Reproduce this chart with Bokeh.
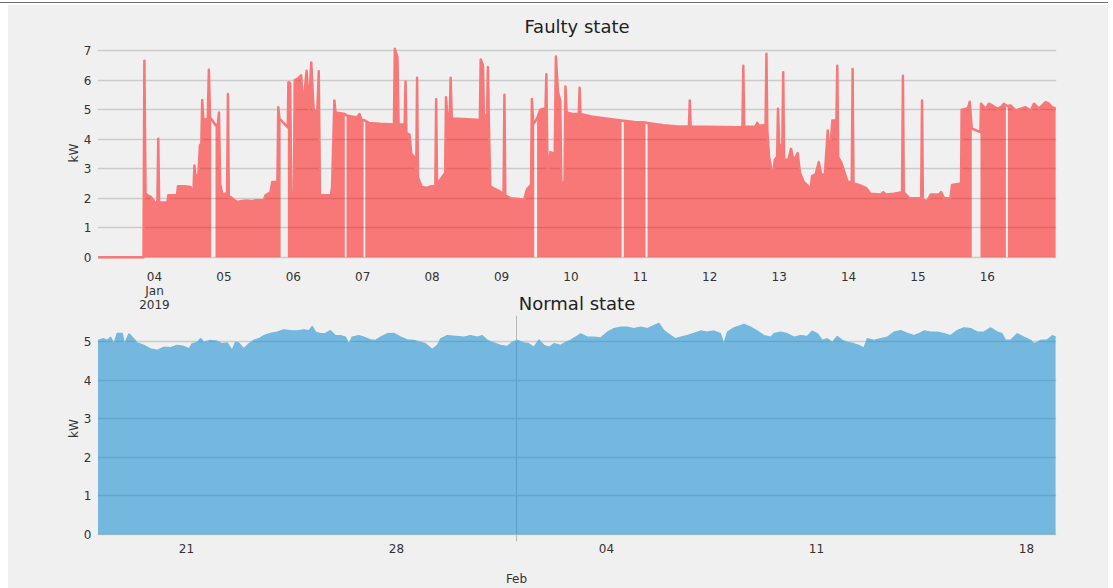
import pandas as pd
from bokeh.plotting import figure
from bokeh.models import FixedTicker, Range1d, DatetimeAxis, Div
from bokeh.layouts import column
from bokeh.embed import file_html
from bokeh.resources import INLINE

# ---------------- data ----------------
fault_start = "2019-01-03 00:00"          # hours below are counted from here
fault_hours = [
    4.5, 20.2, 20.5, 20.9, 21.5, 22.6, 23.5, 24.1, 25.0, 25.3,
    25.6, 28.4, 28.8, 31.8, 32.1, 34.5, 36.5, 36.9, 37.5, 37.8,
    38.2, 39.2, 39.7, 40.2, 40.5, 40.9, 42.4, 42.8, 43.2, 43.6,
    45.1, 45.9, 46.3, 46.7, 47.4, 49.1, 49.4, 49.7, 50.3, 51.5,
    52.6, 54.3, 56.0, 57.5, 59.0, 61.8, 62.4, 64.1, 64.7, 66.5,
    66.8, 67.2, 67.6, 70.1, 70.3, 70.9, 71.3, 72.2, 72.5, 73.6,
    74.7, 75.4, 76.6, 77.4, 78.2, 79.0, 80.3, 80.8, 81.2, 85.0,
    85.4, 86.2, 86.6, 89.8, 90.4, 93.0, 94.2, 94.9, 95.6, 96.3,
    96.9, 98.1, 102.0, 106.8, 107.1, 108.0, 108.4, 110.5, 110.8, 111.1,
    112.2, 112.8, 113.8, 114.5, 114.8, 115.1, 116.4, 118.0, 119.5, 121.1,
    121.4, 121.7, 123.0, 124.5, 124.8, 125.2, 126.1, 126.4, 126.8, 131.0,
    136.5, 136.8, 137.6, 137.9, 139.0, 139.3, 139.7, 140.1, 141.5, 143.0,
    144.7, 145.0, 145.3, 147.0, 150.0, 151.8, 152.8, 154.2, 154.5, 154.9,
    155.3, 156.3, 157.4, 159.2, 159.5, 159.9, 160.9, 162.4, 162.8, 163.5,
    164.3, 164.7, 165.8, 166.1, 166.5, 168.5, 170.7, 171.0, 171.3, 175.0,
    180.0, 185.5, 186.3, 190.0, 193.8, 194.5, 200.0, 205.0, 208.8, 209.1,
    209.4, 215.0, 220.0, 225.0, 227.3, 227.6, 227.9, 231.8, 232.4, 233.0,
    235.3, 235.6, 235.9, 236.5, 237.8, 238.5, 239.3, 239.6, 240.0, 241.1,
    241.4, 241.7, 243.2, 244.1, 245.0, 246.4, 247.2, 248.5, 249.6, 250.8,
    251.4, 252.6, 253.7, 254.5, 255.8, 256.8, 257.5, 258.4, 259.8, 260.1,
    260.4, 261.5, 262.5, 263.7, 265.1, 265.4, 265.7, 267.6, 270.0, 271.6,
    275.0, 276.0, 277.0, 279.6, 282.5, 282.8, 283.1, 285.0, 289.1, 289.4,
    289.7, 291.2, 292.4, 295.2, 296.0, 297.0, 299.2, 299.8, 302.9, 303.1,
    305.3, 305.9, 306.6, 309.6, 309.8, 311.4, 312.5, 313.7, 315.4, 316.6,
    317.7, 318.4, 319.1, 320.0, 321.8, 323.5, 325.2, 327.0, 328.1, 329.8,
    332.1, 333.3, 334.4, 335.6,
]
fault_kw = [
    0.00, 0.00, 6.66, 2.17, 2.10, 2.05, 1.95, 1.84, 1.85, 4.01,
    1.85, 1.85, 2.10, 2.10, 2.40, 2.40, 2.38, 2.21, 2.30, 3.11,
    2.72, 2.80, 3.79, 3.85, 5.33, 4.69, 4.65, 6.35, 4.72, 4.69,
    4.47, 4.50, 4.90, 2.49, 2.15, 2.15, 5.53, 2.04, 2.04, 1.95,
    1.87, 1.90, 1.92, 1.90, 1.93, 1.93, 2.10, 2.20, 2.55, 2.55,
    5.08, 4.69, 4.65, 4.40, 5.93, 5.90, 2.21, 2.21, 6.00, 6.05,
    6.16, 5.08, 6.32, 5.03, 6.60, 5.00, 4.97, 6.30, 2.10, 2.10,
    2.38, 5.31, 4.90, 4.85, 4.80, 4.75, 4.75, 4.85, 4.65, 4.65,
    4.62, 4.55, 4.52, 4.50, 7.06, 6.78, 4.50, 4.50, 5.95, 4.20,
    4.15, 3.50, 3.40, 2.70, 6.08, 2.70, 2.38, 2.35, 2.40, 2.40,
    5.35, 2.45, 2.65, 2.85, 5.42, 4.85, 4.85, 6.08, 4.70, 4.68,
    4.65, 6.70, 6.50, 4.80, 4.80, 6.44, 4.20, 2.40, 2.32, 2.25,
    2.15, 5.50, 2.10, 2.00, 1.97, 1.95, 2.30, 2.45, 5.36, 4.60,
    4.55, 4.70, 5.00, 5.05, 6.20, 2.85, 3.56, 3.50, 6.80, 5.60,
    5.30, 2.35, 2.60, 5.78, 4.90, 4.85, 4.85, 5.74, 4.85, 4.77,
    4.70, 4.63, 4.62, 4.58, 4.56, 4.55, 4.47, 4.43, 4.43, 5.31,
    4.43, 4.42, 4.41, 4.40, 4.40, 6.49, 4.42, 4.42, 4.55, 4.45,
    4.48, 6.89, 4.30, 3.40, 2.72, 3.30, 3.40, 5.03, 3.80, 3.80,
    6.27, 3.30, 3.30, 3.67, 3.25, 3.53, 2.85, 2.55, 2.45, 2.30,
    2.75, 2.80, 3.22, 2.80, 2.80, 4.29, 3.40, 4.63, 4.63, 6.49,
    3.40, 3.20, 2.90, 2.55, 2.55, 6.38, 2.50, 2.45, 2.35, 2.15,
    2.12, 2.20, 2.12, 2.15, 2.20, 6.15, 2.20, 2.00, 2.00, 5.31,
    1.95, 1.90, 2.12, 2.12, 2.20, 2.00, 2.00, 2.45, 2.50, 5.00,
    5.05, 5.27, 4.36, 4.24, 5.20, 5.03, 5.20, 5.14, 5.03, 5.08,
    5.20, 5.15, 5.12, 5.14, 4.97, 5.03, 5.08, 4.97, 5.20, 5.03,
    5.25, 5.20, 5.08, 5.03,
]
# hours at which a missing stretch (no fill) starts; it lasts until the next reading
fault_gap_starts = [43.6, 67.6, 89.8, 96.3, 155.3, 185.5, 193.8, 306.6, 318.4]

normal_start = "2019-01-18 00:00"         # days below are counted from here
normal_days = [
    0.05, 0.24, 0.36, 0.47, 0.58, 0.69, 0.86, 0.93, 1.08, 1.24,
    1.36, 1.58, 1.80, 2.02, 2.24, 2.47, 2.69, 2.91, 3.08, 3.19,
    3.36, 3.47, 3.58, 3.80, 4.02, 4.19, 4.36, 4.52, 4.63, 4.74,
    4.91, 5.08, 5.24, 5.41, 5.58, 5.80, 6.02, 6.24, 6.47, 6.69,
    6.91, 7.08, 7.19, 7.30, 7.47, 7.63, 7.80, 7.97, 8.13, 8.30,
    8.41, 8.52, 8.74, 8.91, 9.13, 9.30, 9.47, 9.69, 9.91, 10.14,
    10.36, 10.58, 10.80, 10.97, 11.19, 11.36, 11.47, 11.69, 11.97, 12.25,
    12.47, 12.69, 12.86, 13.03, 13.25, 13.47, 13.69, 13.86, 14.03, 14.25,
    14.41, 14.58, 14.75, 14.91, 15.08, 15.25, 15.47, 15.64, 15.80, 15.97,
    16.14, 16.36, 16.58, 16.80, 17.03, 17.25, 17.47, 17.69, 17.91, 18.14,
    18.36, 18.58, 18.75, 18.91, 19.14, 19.30, 19.47, 19.69, 19.91, 20.14,
    20.36, 20.58, 20.80, 20.91, 21.03, 21.25, 21.47, 21.58, 21.80, 22.03,
    22.25, 22.47, 22.58, 22.80, 23.03, 23.25, 23.47, 23.69, 23.86, 24.03,
    24.19, 24.36, 24.53, 24.69, 24.86, 25.03, 25.25, 25.41, 25.58, 25.69,
    25.91, 26.14, 26.36, 26.58, 26.80, 27.03, 27.25, 27.41, 27.58, 27.80,
    28.03, 28.25, 28.47, 28.69, 28.91, 29.14, 29.36, 29.58, 29.80, 30.03,
    30.19, 30.30, 30.47, 30.69, 30.91, 31.14, 31.25, 31.47, 31.69, 31.86,
    31.97,
]
normal_kw = [
    5.03, 5.07, 5.03, 5.11, 4.94, 5.21, 5.21, 4.94, 5.20, 5.07,
    4.96, 4.90, 4.81, 4.77, 4.85, 4.84, 4.90, 4.87, 4.81, 4.94,
    4.98, 5.08, 4.98, 5.03, 5.01, 4.94, 4.96, 4.77, 4.98, 4.96,
    4.81, 4.94, 5.03, 5.07, 5.15, 5.21, 5.24, 5.30, 5.28, 5.27,
    5.30, 5.28, 5.39, 5.24, 5.20, 5.21, 5.28, 5.15, 5.15, 5.11,
    4.94, 5.11, 5.15, 5.11, 5.04, 5.03, 5.11, 5.20, 5.21, 5.11,
    5.04, 5.03, 4.98, 4.94, 4.79, 4.90, 5.07, 5.15, 5.13, 5.11,
    5.15, 5.11, 5.15, 5.03, 4.96, 4.90, 4.87, 4.98, 5.03, 4.96,
    4.94, 4.85, 5.04, 4.90, 4.85, 4.94, 4.90, 4.98, 5.03, 5.11,
    5.20, 5.11, 5.11, 5.09, 5.24, 5.33, 5.37, 5.37, 5.33, 5.37,
    5.33, 5.41, 5.47, 5.28, 5.15, 5.07, 5.11, 5.15, 5.21, 5.27,
    5.24, 5.27, 5.20, 4.94, 5.24, 5.35, 5.41, 5.44, 5.37, 5.27,
    5.15, 5.11, 5.20, 5.24, 5.20, 5.11, 5.15, 5.13, 5.27, 5.20,
    5.03, 5.07, 4.98, 5.13, 5.03, 4.98, 4.94, 4.90, 4.83, 5.07,
    5.03, 5.07, 5.11, 5.24, 5.28, 5.21, 5.15, 5.20, 5.27, 5.24,
    5.24, 5.20, 5.15, 5.28, 5.35, 5.33, 5.24, 5.24, 5.35, 5.24,
    5.20, 5.03, 5.03, 5.20, 5.11, 5.03, 4.94, 5.03, 5.04, 5.15,
    5.11,
]

fault_ticks = ["2019-01-04", "2019-01-05", "2019-01-06", "2019-01-07", "2019-01-08",
               "2019-01-09", "2019-01-10", "2019-01-11", "2019-01-12", "2019-01-13",
               "2019-01-14", "2019-01-15", "2019-01-16"]
fault_tick_labels = ["04\nJan\n2019", "05", "06", "07", "08", "09", "10", "11",
                     "12", "13", "14", "15", "16"]
normal_ticks = ["2019-01-21", "2019-01-28", "2019-02-04", "2019-02-11", "2019-02-18"]
normal_tick_labels = ["21", "28", "04", "11", "18"]
month_tick = "2019-02-01"
month_label = "Feb"
fault_y_ticks = [0, 1, 2, 3, 4, 5, 6, 7]
normal_y_ticks = [0, 1, 2, 3, 4, 5]

assert len(fault_hours) == len(fault_kw)
assert len(normal_days) == len(normal_kw)

# ---------------- helpers ----------------
HOUR = 3600_000
DAY = 24 * HOUR


def ms(s):
    return int(pd.Timestamp(s).value // 10**6)


BG = "#f0f0f0"
FONT = "DejaVu Sans"


def style(p, yticks):
    p.background_fill_color = BG
    p.border_fill_color = BG
    p.outline_line_color = None
    p.yaxis.ticker = FixedTicker(ticks=yticks)
    for ax in list(p.xaxis) + list(p.yaxis):
        ax.axis_line_color = None
        ax.major_tick_line_color = None
        ax.minor_tick_line_color = None
        ax.major_tick_out = 0
        ax.major_tick_in = 0
        ax.minor_tick_out = 0
        ax.minor_tick_in = 0
        ax.major_label_text_font = FONT
        ax.major_label_text_font_size = "12px"
        ax.major_label_text_color = "#333333"
        ax.major_label_text_line_height = 1.0
    p.xaxis.major_label_standoff = 2
    p.yaxis.major_label_standoff = 6
    p.yaxis.axis_label = "kW"
    p.yaxis.axis_label_text_font = FONT
    p.yaxis.axis_label_text_font_size = "12px"
    p.yaxis.axis_label_text_font_style = "normal"
    p.yaxis.axis_label_text_color = "#333333"
    p.yaxis.axis_label_standoff = 0
    p.ygrid.grid_line_color = "#cbcbcb"
    p.ygrid.grid_line_width = 1.5
    p.title.align = "center"
    p.title.text_font = FONT
    p.title.text_font_size = "18px"
    p.title.text_font_style = "normal"
    p.title.text_color = "#222222"
    p.title.standoff = 4


# ---------------- faulty state ----------------
f0 = ms(fault_start)
fx = [f0 + h * HOUR for h in fault_hours]

p1 = figure(width=1100, height=311, x_axis_type="datetime",
            x_range=Range1d(f0 + 4.29 * HOUR, f0 + 335.9 * HOUR),
            y_range=Range1d(-0.35, 7.41),
            title="Faulty state", toolbar_location=None, output_backend="svg",
            min_border_left=89, min_border_right=52, min_border_top=33,
            min_border_bottom=49)
style(p1, fault_y_ticks)
p1.xgrid.grid_line_color = None
tk = [ms(t) for t in fault_ticks]
p1.xaxis.ticker = FixedTicker(ticks=tk)
p1.xaxis.major_label_overrides = dict(zip(tk, fault_tick_labels))

gap_set = set(fault_gap_starts)
xs, ys, sx, sy = [], [], [], []
for h, x, v in zip(fault_hours, fx, fault_kw):
    sx.append(x)
    sy.append(v)
    if h in gap_set or h == fault_hours[-1]:
        xs.append(sx + [sx[-1], sx[0]])
        ys.append(sy + [0, 0])
        sx, sy = [], []
p1.patches(xs, ys, fill_color="#ff0000", fill_alpha=0.5, line_color=None)
p1.line(fx, fault_kw, line_color="#f77878", line_width=2.5, line_join="round")

# ---------------- normal state ----------------
n0 = ms(normal_start)
nx = [n0 + d * DAY for d in normal_days]

p2 = figure(width=1100, height=303, x_axis_type="datetime",
            x_range=Range1d(n0 + 0.033 * DAY, n0 + 32.0 * DAY),
            y_range=Range1d(-0.18, 5.67),
            title="Normal state", toolbar_location=None, output_backend="svg",
            min_border_left=89, min_border_right=52, min_border_top=30,
            min_border_bottom=46)
style(p2, normal_y_ticks)
p2.border_fill_alpha = 0
ntk = [ms(t) for t in normal_ticks]
p2.xaxis.ticker = FixedTicker(ticks=ntk)
p2.xaxis.major_label_overrides = dict(zip(ntk, normal_tick_labels))
mt = ms(month_tick)
p2.xgrid.ticker = FixedTicker(ticks=[mt])
p2.xgrid.grid_line_color = "#b8b8b8"
p2.xgrid.grid_line_width = 1.0

month_axis = DatetimeAxis(ticker=FixedTicker(ticks=[mt]),
                          major_label_overrides={mt: month_label},
                          axis_line_color=None, major_tick_line_color=None,
                          minor_tick_line_color=None, major_tick_out=0, major_tick_in=0,
                          minor_tick_out=0, minor_tick_in=0,
                          major_label_standoff=16, major_label_text_font=FONT,
                          major_label_text_font_size="12px",
                          major_label_text_color="#333333")
p2.add_layout(month_axis, "below")

p2.varea(x=nx, y1=0, y2=normal_kw, fill_color="#0f8bd2", fill_alpha=0.55)
p2.line(nx, normal_kw, line_color="#74b8dd", line_width=1.2)

p2.margin = (-31, 0, 0, 0)

line = Div(width=1108, height=1, margin=(2, 0, 0, 0),
           styles={"background-color": "#6f6f6f"})
inner = column(p1, p2, spacing=0, margin=(2, 0, 0, 8),
               styles={"background-color": BG})
page = column(line, inner, spacing=0, margin=(0, 0, 0, 0))

open("out.html", "w").write(file_html(page, INLINE))
